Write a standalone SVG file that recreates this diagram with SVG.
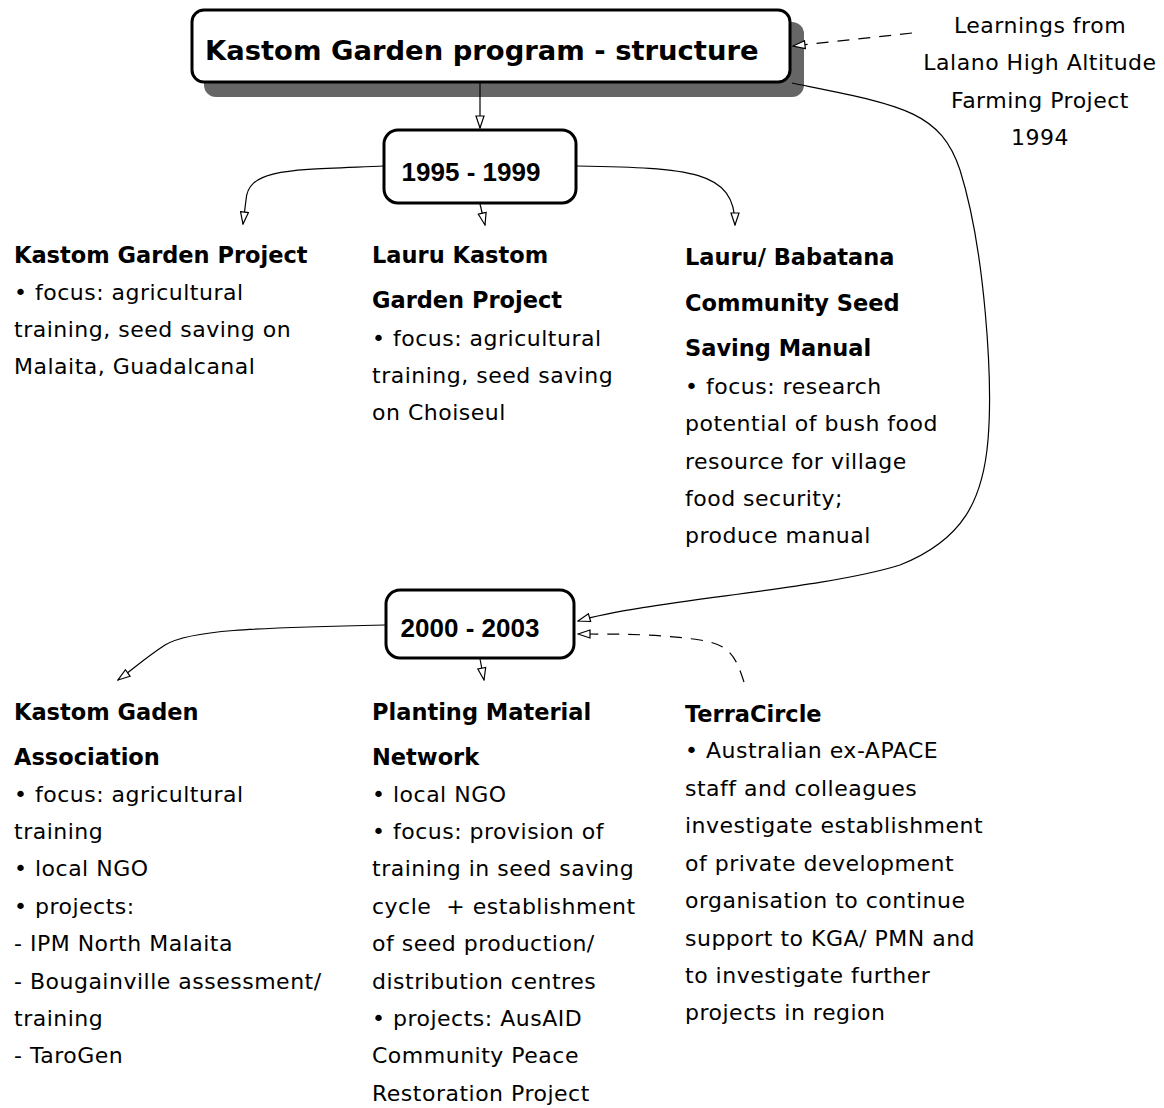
<svg xmlns="http://www.w3.org/2000/svg" width="1164" height="1108" viewBox="0 0 1164 1108">
<defs>
<style>
text{font-family:"DejaVu Sans","Liberation Sans",sans-serif;fill:#000}
.h{font-weight:bold;font-size:22.5px}
.n{font-size:22px;letter-spacing:0.5px}
.y{font-family:"Liberation Sans",Arial,sans-serif;font-weight:bold;font-size:26px}
.box{fill:#fff;stroke:#000;stroke-width:3}
.c{fill:none;stroke:#000;stroke-width:1.2}
.d{stroke-dasharray:12 9}
</style>
<marker id="ah" viewBox="0 0 14 10" refX="13" refY="5" markerWidth="14" markerHeight="10" markerUnits="userSpaceOnUse" orient="auto">
<path d="M1,1 L13,5 L1,9 Z" fill="#fff" stroke="#000" stroke-width="1.2"/>
</marker>
</defs>
<rect width="1164" height="1108" fill="#fff"/>
<g id="title">
<rect x="204" y="22" width="600" height="75" rx="12" fill="#666"/>
<rect class="box" x="192" y="10" width="598" height="72" rx="12"/>
<text x="205" y="60" font-weight="bold" font-size="27.4">Kastom Garden program - structure</text>
</g>
<g id="learnings">
<text class="n" text-anchor="middle"><tspan x="1040" y="33">Learnings from</tspan><tspan x="1040" y="70">Lalano High Altitude</tspan><tspan x="1040" y="108">Farming Project</tspan><tspan x="1040" y="145">1994</tspan></text>
</g>
<g id="p1995">
<rect class="box" x="384" y="130" width="192" height="73" rx="14"/>
<text class="y" x="471" y="181" text-anchor="middle">1995 - 1999</text>
</g>
<g id="kgp">
<text class="h" x="14" y="263">Kastom Garden Project</text>
<text class="n"><tspan x="14" y="300">• focus: agricultural</tspan><tspan x="14" y="337">training, seed saving on</tspan><tspan x="14" y="374">Malaita, Guadalcanal</tspan></text>
</g>
<g id="lkgp">
<text class="h"><tspan x="372" y="263">Lauru Kastom</tspan><tspan x="372" y="308">Garden Project</tspan></text>
<text class="n"><tspan x="372" y="346">• focus: agricultural</tspan><tspan x="372" y="383">training, seed saving</tspan><tspan x="372" y="420">on Choiseul</tspan></text>
</g>
<g id="lbcs">
<text class="h"><tspan x="685" y="265">Lauru/ Babatana</tspan><tspan x="685" y="311">Community Seed</tspan><tspan x="685" y="356">Saving Manual</tspan></text>
<text class="n"><tspan x="685" y="394">• focus: research</tspan><tspan x="685" y="431">potential of bush food</tspan><tspan x="685" y="469">resource for village</tspan><tspan x="685" y="506">food security;</tspan><tspan x="685" y="543">produce manual</tspan></text>
</g>
<g id="p2000">
<rect class="box" x="386" y="590" width="188" height="68" rx="14"/>
<text class="y" x="470" y="637" text-anchor="middle">2000 - 2003</text>
</g>
<g id="kga">
<text class="h"><tspan x="14" y="720">Kastom Gaden</tspan><tspan x="14" y="765">Association</tspan></text>
<text class="n"><tspan x="14" y="802">• focus: agricultural</tspan><tspan x="14" y="839">training</tspan><tspan x="14" y="876">• local NGO</tspan><tspan x="14" y="914">• projects:</tspan><tspan x="14" y="951">- IPM North Malaita</tspan><tspan x="14" y="989">- Bougainville assessment/</tspan><tspan x="14" y="1026">training</tspan><tspan x="14" y="1063">- TaroGen</tspan></text>
</g>
<g id="pmn">
<text class="h"><tspan x="372" y="720">Planting Material</tspan><tspan x="372" y="765">Network</tspan></text>
<text class="n"><tspan x="372" y="802">• local NGO</tspan><tspan x="372" y="839">• focus: provision of</tspan><tspan x="372" y="876">training in seed saving</tspan><tspan x="372" y="914" xml:space="preserve">cycle  + establishment</tspan><tspan x="372" y="951">of seed production/</tspan><tspan x="372" y="989">distribution centres</tspan><tspan x="372" y="1026">• projects: AusAID</tspan><tspan x="372" y="1063">Community Peace</tspan><tspan x="372" y="1101">Restoration Project</tspan></text>
</g>
<g id="terracircle">
<text class="h" x="685" y="722">TerraCircle</text>
<text class="n"><tspan x="685" y="758">• Australian ex-APACE</tspan><tspan x="685" y="796">staff and colleagues</tspan><tspan x="685" y="833">investigate establishment</tspan><tspan x="685" y="871">of private development</tspan><tspan x="685" y="908">organisation to continue</tspan><tspan x="685" y="946">support to KGA/ PMN and</tspan><tspan x="685" y="983">to investigate further</tspan><tspan x="685" y="1020">projects in region</tspan></text>
</g>
<g id="connectors">
<path class="c" d="M480,83 L480,128" marker-end="url(#ah)"/>
<path class="c d" d="M912,33 L793,46" marker-end="url(#ah)"/>
<path class="c" d="M384,166 C290,170 248,168 246,200 L243,224" marker-end="url(#ah)"/>
<path class="c" d="M480,204 L485,225" marker-end="url(#ah)"/>
<path class="c" d="M577,166 C690,168 735,170 735,225" marker-end="url(#ah)"/>
<path class="c" d="M792,83 C900,105 940,110 960,170 C985,250 993,380 988,440 C983,500 963,540 900,565 C820,590 650,600 578,621" marker-end="url(#ah)"/>
<path class="c" d="M385,625 C250,628 190,630 165,645 C145,658 132,670 118,680" marker-end="url(#ah)"/>
<path class="c" d="M480,659 L484,680" marker-end="url(#ah)"/>
<path class="c d" d="M744,682 C735,655 730,645 700,640 C660,634 620,634 578,634" marker-end="url(#ah)"/>
</g>
</svg>
